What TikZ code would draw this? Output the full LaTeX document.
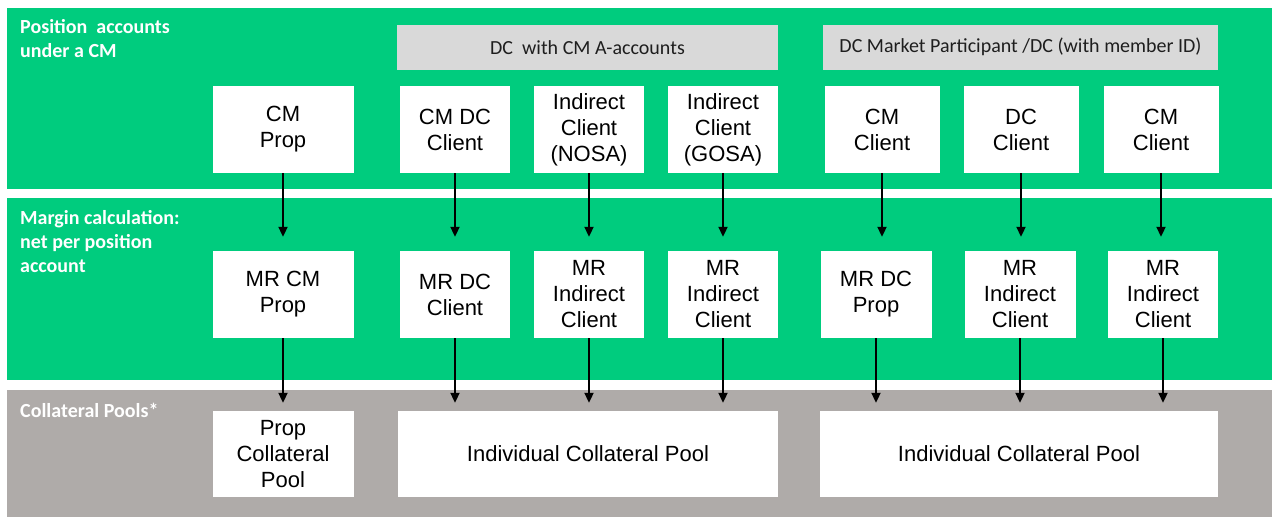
\documentclass[tikz,border=0pt]{standalone}
\usepackage{fontspec}
\setmainfont{Liberation Sans}
\newfontfamily\calfont{Carlito}
\usetikzlibrary{arrows.meta}
\definecolor{bandgreen}{RGB}{0,204,126}
\definecolor{bandgray}{RGB}{175,171,169}
\definecolor{hdrgray}{RGB}{217,217,217}
\definecolor{hdrtext}{RGB}{30,30,30}
\tikzset{
  box/.style={fill=white, draw=none, inner sep=0pt, align=center, text=black,
    font=\fontsize{22}{26}\selectfont},
  hdr/.style={fill=hdrgray, draw=none, inner sep=0pt, text=hdrtext,
    font=\calfont\fontsize{20}{22}\selectfont, minimum height=45pt},
  lbl/.style={anchor=north west, inner sep=0pt, align=left, text=white,
    font=\calfont\bfseries\fontsize{20}{24}\selectfont},
  arr/.style={-{Triangle[length=10pt,width=9pt]}, line width=2pt}
}
\begin{document}
\begin{tikzpicture}[x=1pt,y=-1pt]
\useasboundingbox (0,0) rectangle (1272,517);
% bands
\fill[bandgreen] (7,8) rectangle (1272,189);
\fill[bandgreen] (7,198) rectangle (1272,380);
\fill[bandgray] (7,390) rectangle (1272,517);
% band labels
\node[lbl] (l1) at (20,19) {Position\ \ accounts\\under a CM};
\node[lbl] (l2) at (20,210) {Margin calculation:\\net per position\\account};
\node[lbl] (l3) at (20,403) {Collateral Pools*};
% headers
\node[hdr, minimum width=381pt] (h1) at (587.5,47.5) {DC\ \ with CM A-accounts};
\node[hdr, minimum width=395pt] (h2) at (1020.5,47) {DC Market Participant /DC (with member ID)};
% top row
\node[box, minimum width=141pt, minimum height=87pt] (t1) at (283,129.5) {CM\\Prop};
\node[box, minimum width=110pt, minimum height=87pt] (t2) at (455,129.5) {CM DC\\Client};
\node[box, minimum width=110pt, minimum height=87pt] (t3) at (589,129.5) {Indirect\\Client\\(NOSA)};
\node[box, minimum width=110pt, minimum height=87pt] (t4) at (723,129.5) {Indirect\\Client\\(GOSA)};
\node[box, minimum width=115pt, minimum height=87pt] (t5) at (882,129.5) {CM\\Client};
\node[box, minimum width=115pt, minimum height=87pt] (t6) at (1021,129.5) {DC\\Client};
\node[box, minimum width=115pt, minimum height=87pt] (t7) at (1161,129.5) {CM\\Client};
% middle row
\node[box, minimum width=141pt, minimum height=87pt] (m1) at (283,294.5) {MR CM\\Prop};
\node[box, minimum width=110pt, minimum height=87pt] (m2) at (455,294.5) {MR DC\\Client};
\node[box, minimum width=110pt, minimum height=87pt] (m3) at (589,294.5) {MR\\Indirect\\Client};
\node[box, minimum width=110pt, minimum height=87pt] (m4) at (723,294.5) {MR\\Indirect\\Client};
\node[box, minimum width=111pt, minimum height=87pt] (m5) at (876,294.5) {MR DC\\Prop};
\node[box, minimum width=111pt, minimum height=87pt] (m6) at (1020,294.5) {MR\\Indirect\\Client};
\node[box, minimum width=110pt, minimum height=87pt] (m7) at (1163,294.5) {MR\\Indirect\\Client};
% bottom row
\node[box, minimum width=141pt, minimum height=86pt] (p1) at (283,454) {Prop\\Collateral\\Pool};
\node[box, minimum width=380pt, minimum height=86pt] (p2) at (588,454) {Individual Collateral Pool};
\node[box, minimum width=398pt, minimum height=86pt] (p3) at (1019,454) {Individual Collateral Pool};
% arrows top -> middle
\foreach \i in {1,...,7}{
  \draw[arr, shorten >=14pt] (t\i.south) -- (t\i.south |- m\i.north);
}
% arrows middle -> bottom
\draw[arr, shorten >=8pt] (m1.south) -- (m1.south |- p1.north);
\draw[arr, shorten >=8pt] (m2.south) -- (m2.south |- p2.north);
\draw[arr, shorten >=8pt] (m3.south) -- (m3.south |- p2.north);
\draw[arr, shorten >=8pt] (m4.south) -- (m4.south |- p2.north);
\draw[arr, shorten >=8pt] (m5.south) -- (m5.south |- p3.north);
\draw[arr, shorten >=8pt] (m6.south) -- (m6.south |- p3.north);
\draw[arr, shorten >=8pt] (m7.south) -- (m7.south |- p3.north);
\end{tikzpicture}
\end{document}
